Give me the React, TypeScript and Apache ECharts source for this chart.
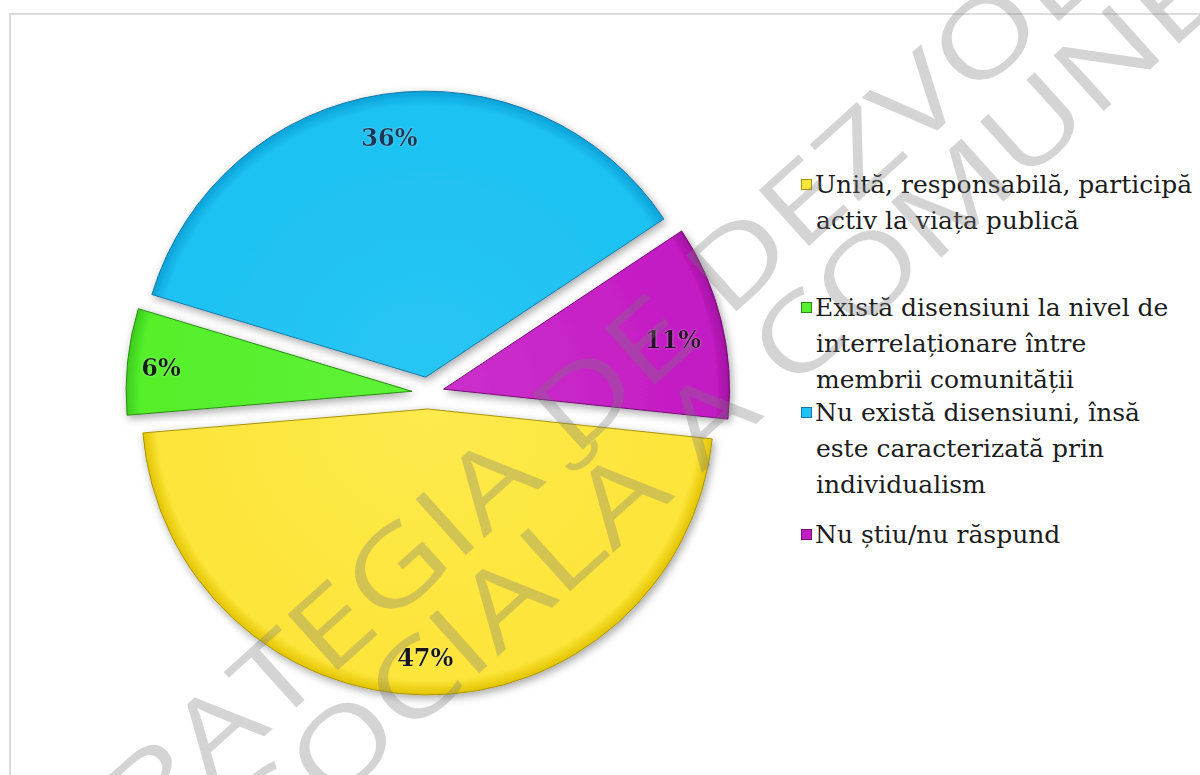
import React, { useEffect, useRef } from "react";
import * as echarts from "echarts";

const categories = [
  "Unită, responsabilă, participă activ la viața publică",
  "Există disensiuni la nivel de interrelaționare între membrii comunității",
  "Nu există disensiuni, însă este caracterizată prin individualism",
  "Nu știu/nu răspund",
];
const legendLines = [
  ["Unită, responsabilă, participă", "activ la viața publică"],
  ["Există disensiuni la nivel de", "interrelaționare între", "membrii comunității"],
  ["Nu există disensiuni, însă", "este caracterizată prin", "individualism"],
  ["Nu știu/nu răspund"],
];
const values = [47, 6, 36, 11];
const legendTops = [172, 295, 400, 522];
const watermarkLines = ["STRATEGIA DE DEZVOLTARE", "SOCIALĂ A COMUNEI"];

const baseColors = ["#fde53a", "#55f02c", "#1ec2f2", "#c41cc4"];
const lightColors = ["#fdea4c", "#5ef236", "#28c6f3", "#cc30cc"];
const rimColors = ["#e2c400", "#3ccc1c", "#0aa2d8", "#a010a0"];
const borderColors = ["#a89410", "#2a8a18", "#1878a8", "#741074"];
const labelColors = ["#141414", "#0c240c", "#17375a", "#2a0a2a"];
const labelOffsets = [[0, 0], [-4, 2], [0, 6], [-12, 10]];

const CX = 428;
const CY = 393;
const R = 286;
const OFFSET = 16;

export default function App() {
  const ref = useRef<HTMLDivElement>(null);
  useEffect(() => {
    if (!ref.current) return;
    const chart = echarts.init(ref.current, null, { renderer: "svg" });

    const grad = (i: number) => ({
      type: "radial",
      x: CX,
      y: CY,
      r: R,
      global: true,
      colorStops: [
        { offset: 0, color: lightColors[i] },
        { offset: 0.85, color: baseColors[i] },
        { offset: 0.95, color: baseColors[i] },
        { offset: 1, color: rimColors[i] },
      ],
    });

    const itemStyleFor = (i: number) => ({
      color: grad(i),
      borderColor: borderColors[i],
      borderWidth: 1,
      shadowBlur: 8,
      shadowColor: "rgba(0,0,0,0.35)",
      shadowOffsetX: 2,
      shadowOffsetY: 3,
    });

    const pieData = categories.map((name, i) => ({
      name,
      value: values[i],
      selected: true,
      itemStyle: itemStyleFor(i),
      select: { itemStyle: itemStyleFor(i) },
    }));

    const labelData = categories.map((name, i) => ({
      name,
      value: values[i],
      selected: true,
      label: { color: labelColors[i], offset: labelOffsets[i] },
      select: {
        label: { color: labelColors[i], offset: labelOffsets[i] },
        itemStyle: { color: "transparent", borderWidth: 0 },
      },
    }));

    const rich: any = {
      g: { width: 4 },
      s: { width: 14 },
      t: {
        fontFamily: "DejaVu Serif",
        fontSize: 25,
        lineHeight: 36,
        color: "#1c1c1c",
      },
    };
    baseColors.forEach((c, i) => {
      rich["i" + i] = {
        width: 9,
        height: 9,
        backgroundColor: c,
        borderColor: borderColors[i],
        borderWidth: 1,
        verticalAlign: "middle",
      };
    });

    const legends = categories.map((name, i) => ({
      left: 797,
      top: legendTops[i],
      padding: 0,
      orient: "vertical",
      icon: "none",
      itemWidth: 0,
      itemHeight: 0,
      selectedMode: false,
      data: [name],
      formatter: (n: string) => {
        const k = categories.indexOf(n);
        return legendLines[k]
          .map((l, j) => (j === 0 ? `{i${k}|}{g|}` : `{s|}`) + `{t|${l}}`)
          .join("\n");
      },
      textStyle: { rich },
    }));

    const wmStyle = (text: string) => ({
      text,
      font: "400 105px 'Open Sans'",
      fill: "rgba(120,120,120,0.32)",
      align: "center",
      verticalAlign: "middle",
    });
    const rot = (42 * Math.PI) / 180;

    chart.setOption({
      animation: false,
      backgroundColor: "#ffffff",
      legend: legends,
      graphic: [
        {
          type: "rect",
          z: -10,
          shape: { x: 10, y: 14, width: 1400, height: 1000 },
          style: { fill: "none", stroke: "#dcdcdc", lineWidth: 2 },
        },
        {
          type: "text",
          z: 100,
          x: 660,
          y: 325,
          rotation: rot,
          scaleX: 1.28,
          silent: true,
          style: wmStyle(watermarkLines[0]),
        },
        {
          type: "text",
          z: 100,
          x: 736,
          y: 387,
          rotation: rot,
          scaleX: 1.28,
          silent: true,
          style: wmStyle(watermarkLines[1]),
        },
      ],
      series: [
        {
          type: "pie",
          center: [CX, CY],
          radius: [0, R],
          startAngle: -6,
          clockwise: true,
          selectedMode: "multiple",
          selectedOffset: OFFSET,
          avoidLabelOverlap: false,
          emphasis: { disabled: true, scale: false },
          label: { show: false },
          labelLine: { show: false },
          data: pieData,
        },
        {
          type: "pie",
          center: [CX, CY],
          radius: [205, R],
          startAngle: -6,
          clockwise: true,
          selectedMode: "multiple",
          selectedOffset: OFFSET,
          silent: true,
          z: 3,
          avoidLabelOverlap: false,
          emphasis: { disabled: true, scale: false },
          itemStyle: { color: "transparent", borderWidth: 0 },
          label: {
            show: true,
            position: "inside",
            formatter: "{c}%",
            fontFamily: "DejaVu Serif",
            fontWeight: "bold",
            fontSize: 24,
            textShadowColor: "rgba(255,255,255,0.35)",
            textShadowBlur: 2,
          },
          labelLine: { show: false },
          data: labelData,
        },
      ],
    } as any);
    return () => chart.dispose();
  }, []);
  return (
    <div
      ref={ref}
      style={{ position: "fixed", left: 0, top: 0, width: 1200, height: 775 }}
    />
  );
}
